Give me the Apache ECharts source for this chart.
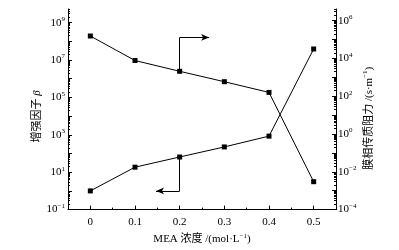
<!DOCTYPE html>
<html>
<head>
<meta charset="utf-8">
<script src="https://cdn.jsdelivr.net/npm/echarts@6/dist/echarts.min.js"></script>
<style>
html, body { margin: 0; padding: 0; background: #fff; }
#chart { width: 399px; height: 250px; }
</style>
</head>
<body>
<div id="chart"></div>
<script>
// MEA 浓度 (mol/L)
var mea = [0, 0.1, 0.2, 0.3, 0.4, 0.5];
// 增强因子 beta, left axis
var beta = [1, 18.6, 65, 225, 850, 3.9e7];
// 膜相传质阻力 (s/m), right axis
var resistance = [1.55e5, 7.8e3, 2.1e3, 590, 160, 0.003];

var xTicks = [0, 0.1, 0.2, 0.3, 0.4, 0.5];
var xMinor = [0.05, 0.15, 0.25, 0.35, 0.45];
var leftLabelExp = [-1, 1, 3, 5, 7, 9];
var rightLabelExp = [-4, -2, 0, 2, 4, 6];

// arrows pointing to each curve's axis: [x at start, y turn, x end]
var arrowLeft = [0.2, 1, 0.147];
var arrowRight = [0.2, 1.3e5, 0.266];

var serif = '"Liberation Serif", "Noto Sans CJK SC", serif';
var log = function (v) { return Math.log10(v); };

function range(a, b) {
    var out = [];
    for (var i = a; i <= b; i++) out.push(i);
    return out;
}
function minorTicks(min, max) {
    var out = [];
    for (var n = Math.floor(min); n < max; n++) {
        for (var k = 2; k <= 9; k++) {
            var v = n + Math.log10(k);
            if (v > min && v < max) out.push(v);
        }
    }
    return out;
}
function powLabel(v) {
    var e = Math.round(v);
    return '10{s|' + (e < 0 ? '\u2212' + (-e) : e) + '}';
}

var leftMin = -1, leftMax = 9.73;
var rightMin = -4, rightMax = 6.62;

var labelStyle = {
    color: '#000',
    fontFamily: serif,
    fontSize: 11,
    rich: { s: { fontSize: 7, fontFamily: serif, color: '#000', padding: [0, 0, 7, 0] } }
};
var black = { color: '#000', width: 1 };

function minorAxis(pos, min, max) {
    return {
        type: 'value', position: pos, min: min, max: max,
        axisLine: { show: false, onZero: false },
        axisTick: { show: true, inside: true, length: 2, customValues: minorTicks(min, max), lineStyle: black },
        axisLabel: { show: false },
        splitLine: { show: false }
    };
}

var chart = echarts.init(document.getElementById('chart'));
var option = {
    animation: false,
    grid: { left: 68, right: 63, top: 9, bottom: 36 },
    xAxis: [{
        type: 'value', min: -0.05, max: 0.55,
        axisLine: { onZero: false, lineStyle: black },
        axisTick: { inside: true, length: 4, customValues: xTicks, lineStyle: black },
        axisLabel: Object.assign({ customValues: xTicks, margin: 7,
            formatter: function (v) { return String(+v.toFixed(1)); } }, labelStyle),
        splitLine: { show: false },
        name: 'MEA 浓度 /(mol·L{s|\u22121})',
        nameLocation: 'middle', nameGap: 18,
        nameTextStyle: labelStyle
    }, {
        type: 'value', min: -0.05, max: 0.55, position: 'bottom',
        axisLine: { show: false, onZero: false },
        axisTick: { inside: true, length: 2, customValues: xMinor, lineStyle: black },
        axisLabel: { show: false },
        splitLine: { show: false }
    }],
    yAxis: [{
        type: 'value', position: 'left', min: leftMin, max: leftMax,
        axisLine: { show: true, onZero: false, lineStyle: black },
        axisTick: { show: true, inside: true, length: 4, customValues: range(-1, 9), lineStyle: black },
        axisLabel: Object.assign({ customValues: leftLabelExp, margin: 3, formatter: powLabel }, labelStyle),
        splitLine: { show: false },
        name: '增强因子 {i|β}',
        nameLocation: 'middle', nameRotate: 90, nameGap: 25, nameMoveOverlap: false,
        nameTextStyle: Object.assign({}, labelStyle, {
            padding: [0, 14, 0, 0],
            rich: { i: { fontStyle: 'italic', fontFamily: serif, fontSize: 11, color: '#000' } }
        })
    }, {
        type: 'value', position: 'right', min: rightMin, max: rightMax,
        axisLine: { show: true, onZero: false, lineStyle: black },
        axisTick: { show: true, inside: true, length: 4, customValues: range(-4, 6), lineStyle: black },
        axisLabel: Object.assign({ customValues: rightLabelExp, margin: 2, formatter: powLabel }, labelStyle),
        splitLine: { show: false },
        name: '膜相传质阻力 /(s·m{s|\u22121})',
        nameLocation: 'middle', nameRotate: 90, nameGap: 26, nameMoveOverlap: false,
        nameTextStyle: Object.assign({}, labelStyle, { padding: [0, 18, 0, 0] })
    },
        minorAxis('left', leftMin, leftMax),
        minorAxis('right', rightMin, rightMax)
    ],
    series: [{
        name: 'beta', type: 'line', xAxisIndex: 0, yAxisIndex: 0,
        data: mea.map(function (x, i) { return [x, log(beta[i])]; }),
        symbol: 'rect', symbolSize: 5,
        itemStyle: { color: '#000' }, lineStyle: black,
        markLine: {
            silent: true, symbol: ['none', 'none'],
            label: { show: false }, lineStyle: { color: '#000', width: 1, type: 'solid' },
            data: [
                [{ coord: [arrowLeft[0], log(beta[2])] }, { coord: [arrowLeft[0], log(arrowLeft[1])] }],
                [{ coord: [arrowLeft[0], log(arrowLeft[1])] },
                 { coord: [arrowLeft[2], log(arrowLeft[1])], symbol: 'arrow', symbolSize: [5, 8] }]
            ]
        }
    }, {
        name: 'resistance', type: 'line', xAxisIndex: 0, yAxisIndex: 1,
        data: mea.map(function (x, i) { return [x, log(resistance[i])]; }),
        symbol: 'rect', symbolSize: 5,
        itemStyle: { color: '#000' }, lineStyle: black,
        markLine: {
            silent: true, symbol: ['none', 'none'],
            label: { show: false }, lineStyle: { color: '#000', width: 1, type: 'solid' },
            data: [
                [{ coord: [arrowRight[0], log(resistance[2])] }, { coord: [arrowRight[0], log(arrowRight[1])] }],
                [{ coord: [arrowRight[0], log(arrowRight[1])] },
                 { coord: [arrowRight[2], log(arrowRight[1])], symbol: 'arrow', symbolSize: [5, 8] }]
            ]
        }
    }]
};
chart.setOption(option);
</script>
</body>
</html>
